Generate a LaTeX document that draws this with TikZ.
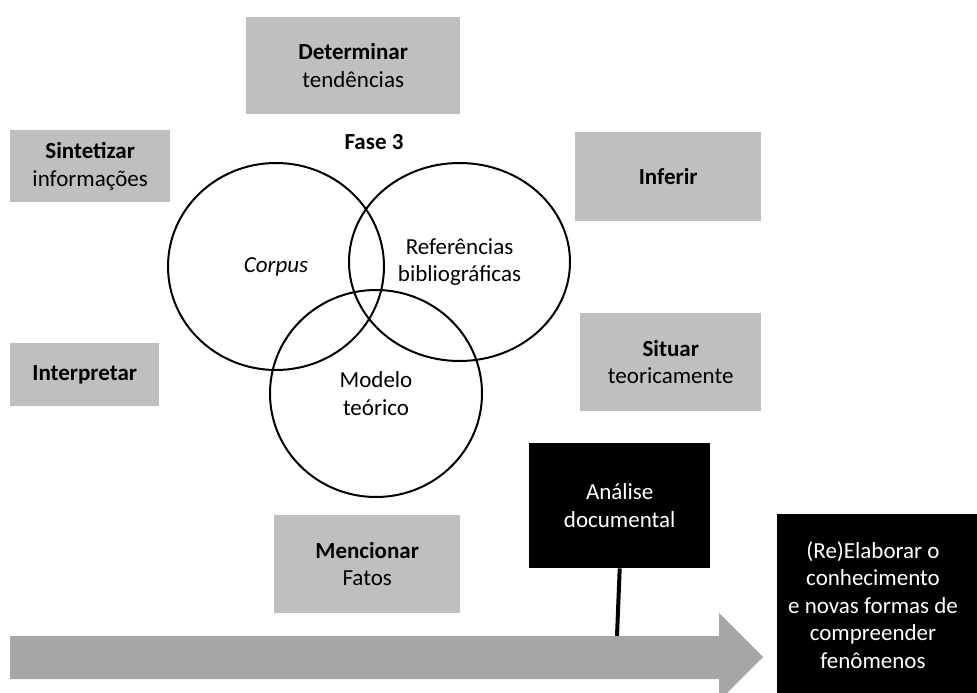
\documentclass[tikz,border=0pt]{standalone}
\usepackage{fontspec}
\setmainfont{Carlito}
\usetikzlibrary{shapes.geometric}
\definecolor{boxgray}{HTML}{BFBFBF}
\definecolor{arrowgray}{HTML}{A6A6A6}
\begin{document}
\begin{tikzpicture}[x=1pt,y=-1pt,
  every node/.style={font=\fontsize{23}{27.5}\selectfont, align=center, inner sep=0pt},
  actbox/.style={fill=boxgray, minimum width=#1, anchor=north west},
  darkbox/.style={fill=black, text=white, anchor=north west},
  setring/.style={draw=black, line width=2pt, ellipse}
]
\useasboundingbox (0,0) rectangle (977,693);

% Action boxes around the diagram
\node[actbox=214pt, minimum height=97pt] (det) at (246,17) {\textbf{Determinar}\\tendências};
\node[actbox=160pt, minimum height=72pt] (sin) at (10,130) {\textbf{Sintetizar}\\informações};
\node[actbox=186pt, minimum height=89pt] (inf) at (575,132) {\textbf{Inferir}};
\node[actbox=181pt, minimum height=98pt] (sit) at (580,313) {\textbf{Situar}\\teoricamente};
\node[actbox=149pt, minimum height=63pt] (int) at (10,343) {\textbf{Interpretar}};
\node[actbox=186pt, minimum height=98pt] (men) at (274,515) {\textbf{Mencionar}\\Fatos};

% Title of the phase
\node (fase) at (374,142) {\textbf{Fase 3}};

% Three overlapping sets
\node[setring, minimum width=216pt, minimum height=207pt] (corpus) at (276,266.5) {\textit{Corpus}};
\node[setring, minimum width=221pt, minimum height=198pt] (refs) at (459.5,262) {Referências\\bibliográficas};
\node[setring, minimum width=212pt, minimum height=207pt] (modelo) at (376,393.5) {Modelo\\teórico};

% Process arrow
\fill[arrowgray] (10,636) -- (719,636) -- (719,613) -- (763,657) -- (719,701)
  -- (719,679) -- (10,679) -- cycle;
\coordinate (shaft) at (617,636);

% Dark boxes
\node[darkbox, minimum width=181pt, minimum height=125pt] (ana) at (529,443) {Análise\\documental};
\fill[black] (777,514) rectangle (977,693);
\node[text=white] (reel) at (873,605) {(Re)Elaborar o\\conhecimento\\e novas formas de\\compreender\\fenômenos};

% Link from the analysis box to the arrow
\draw[line width=4pt] (ana.south) -- (shaft);
\end{tikzpicture}
\end{document}
